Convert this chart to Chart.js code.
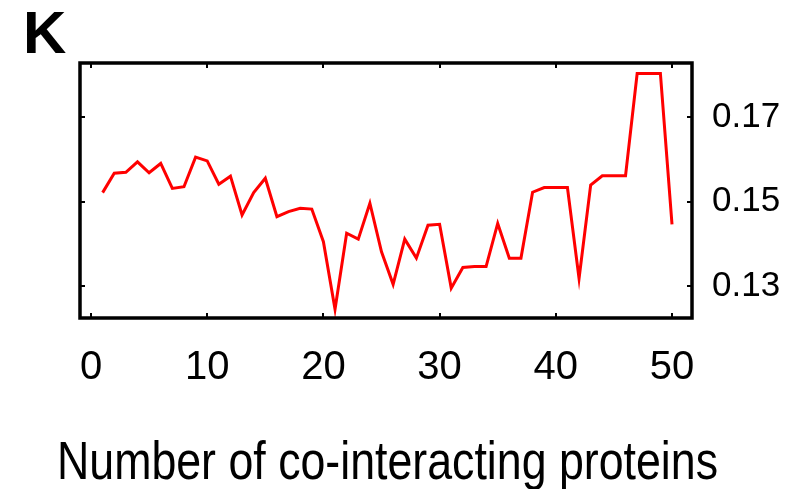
<!DOCTYPE html>
<html>
<head>
<meta charset="utf-8">
<script src="https://cdn.jsdelivr.net/npm/chart.js@4"></script>
<style>
html,body{margin:0;padding:0;background:#fff;}
canvas{display:block;}
</style>
</head>
<body>
<canvas id="c" width="787" height="489"></canvas>
<script>
const counts = [1,2,3,4,5,6,7,8,9,10,11,12,13,14,15,16,17,18,19,20,21,22,23,24,25,26,27,28,29,30,31,32,33,34,35,36,37,38,39,40,41,42,43,44,45,46,47,48,49,50];
const kValues = [0.1521,0.1567,0.1569,0.1594,0.1568,0.1590,0.1531,0.1535,0.1605,0.1596,
                 0.1541,0.1560,0.1468,0.1521,0.1555,0.1464,0.1476,0.1484,0.1482,0.1405,
                 0.1245,0.1425,0.1411,0.1496,0.1381,0.1304,0.1411,0.1366,0.1444,0.1446,
                 0.1295,0.1344,0.1346,0.1346,0.1448,0.1366,0.1366,0.1522,0.1533,0.1533,
                 0.1533,0.1318,0.1539,0.1561,0.1561,0.1561,0.1803,0.1803,0.1803,0.1446];
const xTickValues = [0,10,20,30,40,50];
const yTickValues = [0.13,0.15,0.17];
const panelLabel = "K";
const xAxisTitle = "Number of co-interacting proteins";

const FONT = "'Liberation Sans', Arial, Helvetica, sans-serif";

const frame = {
  id: 'frame',
  afterDatasetsDraw(chart) {
    const ctx = chart.ctx;
    const a = chart.chartArea;
    const xs = chart.scales.x, ys = chart.scales.y;
    ctx.save();
    ctx.strokeStyle = '#000';
    ctx.lineWidth = 3.5;
    ctx.strokeRect(a.left, a.top, a.right - a.left, a.bottom - a.top);
    ctx.lineWidth = 2;
    const L = 5;
    ctx.beginPath();
    xTickValues.forEach(v => {
      const px = Math.round(xs.getPixelForValue(v));
      ctx.moveTo(px, a.bottom); ctx.lineTo(px, a.bottom - L);
      ctx.moveTo(px, a.top); ctx.lineTo(px, a.top + L);
    });
    yTickValues.forEach(v => {
      const py = Math.round(ys.getPixelForValue(v));
      ctx.moveTo(a.left, py); ctx.lineTo(a.left + L, py);
      ctx.moveTo(a.right, py); ctx.lineTo(a.right - L, py);
    });
    ctx.stroke();
    ctx.restore();
  },
  afterDraw(chart) {
    const ctx = chart.ctx;
    ctx.save();
    ctx.fillStyle = '#000';
    ctx.textBaseline = 'alphabetic';
    ctx.textAlign = 'left';
    ctx.font = 'bold 60px ' + FONT;
    ctx.fillText(panelLabel, 23, 53);
    ctx.font = '54px ' + FONT;
    const w = ctx.measureText(xAxisTitle).width;
    const target = 661;
    ctx.translate(57, 479);
    ctx.scale(target / w, 1);
    ctx.fillText(xAxisTitle, 0, 0);
    ctx.restore();
  }
};

new Chart(document.getElementById('c'), {
  type: 'line',
  data: {
    datasets: [{
      data: counts.map((c, i) => ({x: c, y: kValues[i]})),
      borderColor: '#ff0000',
      borderWidth: 3,
      pointRadius: 0,
      tension: 0,
      fill: false
    }]
  },
  options: {
    responsive: false,
    animation: false,
    devicePixelRatio: 1,
    layout: { padding: { left: 80, top: 63, right: 0, bottom: 0 } },
    plugins: { legend: { display: false }, tooltip: { enabled: false }, title: { display: false } },
    scales: {
      x: {
        type: 'linear',
        position: 'bottom',
        min: -0.947,
        max: 51.72,
        afterBuildTicks: s => { s.ticks = xTickValues.map(v => ({value: v})); },
        afterFit: s => { s.height = 489 - 318; },
        grid: { display: false, drawTicks: false },
        border: { display: false },
        ticks: {
          color: '#000',
          font: { family: FONT, size: 40 },
          padding: 26,
          maxRotation: 0,
          autoSkip: false,
          callback: v => String(v)
        }
      },
      y: {
        type: 'linear',
        position: 'right',
        min: 0.12243,
        max: 0.18278,
        afterBuildTicks: s => { s.ticks = yTickValues.map(v => ({value: v})); },
        afterFit: s => { s.width = 787 - 692; },
        grid: { display: false, drawTicks: false },
        border: { display: false },
        ticks: {
          color: '#000',
          font: { family: FONT, size: 35 },
          padding: 20,
          autoSkip: false,
          callback: v => Number(v).toFixed(2)
        }
      }
    }
  },
  plugins: [frame]
});
</script>
</body>
</html>
